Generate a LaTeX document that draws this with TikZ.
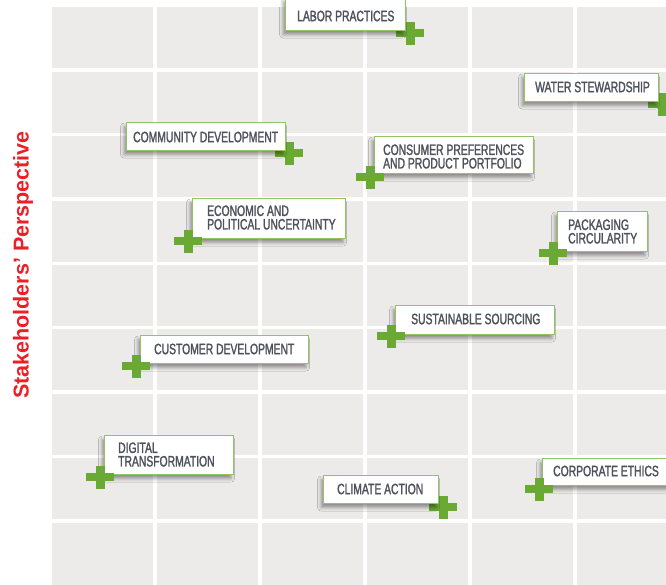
\documentclass[tikz,border=0pt]{standalone}
\usepackage{fontspec}
\usetikzlibrary{shadows.blur}
\newfontfamily\condfont[FakeStretch=0.69,FakeBold=1.6]{Liberation Sans}
\newfontfamily\titlefont{Liberation Sans}
\definecolor{cellgray}{RGB}{236,235,233}
\definecolor{boxgreen}{RGB}{145,196,98}
\definecolor{plusgreen}{RGB}{106,170,52}
\definecolor{txtgray}{RGB}{78,82,92}
\definecolor{titlered}{RGB}{236,30,38}
\begin{document}
\begin{tikzpicture}[x=1pt,y=-1pt,
  box/.style={draw=boxgreen, line width=1.1pt, fill=white, inner sep=0pt, anchor=north west,
    blur shadow={shadow xshift=-2.5pt, shadow yshift=-4pt, shadow blur radius=3.5pt, shadow opacity=40}},
  txt/.style={font=\condfont\fontsize{15}{13.5}\selectfont, text=txtgray, anchor=west, inner sep=0pt, align=left},
  gridline/.style={white, line width=3.5pt},
  plusmark/.pic={\fill[plusgreen] (-14,-4) rectangle (14,4); \fill[plusgreen] (-4.5,-11.5) rectangle (4.5,11.5);}]
\useasboundingbox (0,0) rectangle (666,584);
% grid
\fill[cellgray] (52,7) rectangle (670,590);
\foreach \xx in {155,260,365,470,575} {\draw[gridline] (\xx,7) -- (\xx,590);}
\foreach \k in {0,...,7} {\draw[gridline] (52,70+64.43*\k) -- (670,70+64.43*\k);}
% title
\node[rotate=90, font=\titlefont\bfseries\fontsize{21.5}{24}\selectfont, text=titlered, inner sep=0pt] (title) at (23,265) {Stakeholders’ Perspective};
% pluses behind boxes
\pic (p1) at (410,33) {plusmark};
\pic (p2) at (662,104) {plusmark};
\pic (p3) at (289,153) {plusmark};
\pic (p10) at (443,507) {plusmark};
% boxes
\node[box, minimum width=120pt, minimum height=33pt] (b1) at (285,-3) {};
\node[box, minimum width=134pt, minimum height=28pt] (b2) at (524,73) {};
\node[box, minimum width=159pt, minimum height=28pt] (b3) at (126,122) {};
\node[box, minimum width=159pt, minimum height=37pt] (b4) at (374,136) {};
\node[box, minimum width=153pt, minimum height=40pt] (b5) at (192,198) {};
\node[box, minimum width=90pt, minimum height=40pt] (b6) at (557,211) {};
\node[box, minimum width=159pt, minimum height=29pt] (b7) at (395,305) {};
\node[box, minimum width=168pt, minimum height=28pt] (b8) at (140,335) {};
\node[box, minimum width=129pt, minimum height=39pt] (b9) at (104,435) {};
\node[box, minimum width=115pt, minimum height=28pt] (b10) at (323,475) {};
\node[box, minimum width=130pt, minimum height=27pt] (b11) at (542,458) {};
% pluses in front
\pic (p4) at (370,177) {plusmark};
\pic (p5) at (188,241) {plusmark};
\pic (p6) at (553,253) {plusmark};
\pic (p7) at (391,336) {plusmark};
\pic (p8) at (136,366) {plusmark};
\pic (p9) at (100,477) {plusmark};
\pic (p11) at (539,489) {plusmark};
% texts
\node[txt] (t1) at (297,16) {LABOR PRACTICES};
\node[txt] (t2) at (535,87) {WATER STEWARDSHIP};
\node[txt] (t3) at (133,137) {COMMUNITY DEVELOPMENT};
\node[txt] (t4) at (383,156.5) {CONSUMER PREFERENCES\\AND PRODUCT PORTFOLIO};
\node[txt] (t5) at (207,217.5) {ECONOMIC AND\\POLITICAL UNCERTAINTY};
\node[txt] (t6) at (568,231.5) {PACKAGING\\CIRCULARITY};
\node[txt] (t7) at (411,319) {SUSTAINABLE SOURCING};
\node[txt] (t8) at (154,349) {CUSTOMER DEVELOPMENT};
\node[txt] (t9) at (118,454.5) {DIGITAL\\TRANSFORMATION};
\node[txt] (t10) at (337,489) {CLIMATE ACTION};
\node[txt] (t11) at (553,471) {CORPORATE ETHICS};
\end{tikzpicture}
\end{document}
